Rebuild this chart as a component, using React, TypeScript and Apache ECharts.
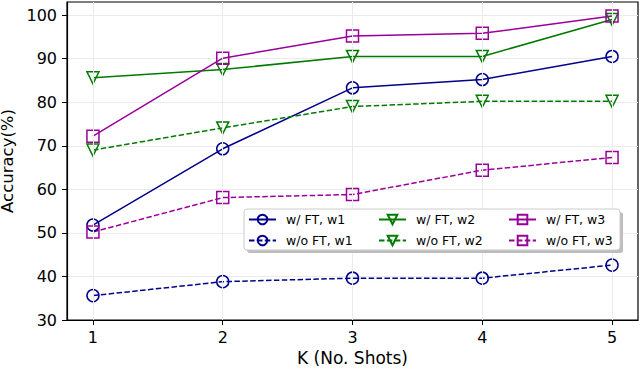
import React, { useEffect, useRef } from 'react';
import * as echarts from 'echarts';

const shots = [1, 2, 3, 4, 5];
const ftW1 = [51.8, 69.3, 83.3, 85.2, 90.5];
const noFtW1 = [35.6, 38.8, 39.6, 39.6, 42.6];
const ftW2 = [85.6, 87.5, 90.5, 90.5, 99.0];
const noFtW2 = [69.0, 74.1, 79.0, 80.2, 80.2];
const ftW3 = [72.2, 90.1, 95.2, 95.8, 99.8];
const noFtW3 = [50.2, 58.1, 58.8, 64.4, 67.3];
const yTicks = [30, 40, 50, 60, 70, 80, 90, 100];
const names = ['w/ FT, w1', 'w/o FT, w1', 'w/ FT, w2', 'w/o FT, w2', 'w/ FT, w3', 'w/o FT, w3'];
const values = [ftW1, noFtW1, ftW2, noFtW2, ftW3, noFtW3];
const colors = ['#00008b', '#00008b', '#007a00', '#007a00', '#990099', '#990099'];
const symbols = ['circle', 'circle', 'triangle', 'triangle', 'rect', 'rect'];
const rotations = [0, 0, 180, 180, 0, 0];

const FONT = 'DejaVu Sans';

export default function App() {
  const ref = useRef<HTMLDivElement>(null);
  useEffect(() => {
    document.body.style.margin = '0';
    const chart = echarts.init(ref.current!, null, { renderer: 'svg' });
    const series: any[] = [
      {
        type: 'line',
        name: '__grid',
        data: [],
        z: 1,
        silent: true,
        markLine: {
          silent: true,
          symbol: 'none',
          label: { show: false },
          lineStyle: { color: '#ebebeb', width: 1, type: 'solid' },
          data: shots.map((s) => ({ xAxis: s })),
        },
      },
    ];
    names.forEach((n, i) => {
      const dashed = i % 2 === 1;
      series.push({
        type: 'line',
        name: n,
        z: 2,
        data: shots.map((s, j) => [s, values[i][j]]),
        symbol: symbols[i],
        symbolRotate: rotations[i],
        symbolSize: 12,
        showAllSymbol: true,
        lineStyle: { color: colors[i], width: 1.5, type: dashed ? [5.5, 2.4] : 'solid' },
        itemStyle: { color: 'rgba(0,0,0,0)', borderColor: colors[i], borderWidth: 1.5 },
      });
    });
    const legendLefts = [248, 378, 508];
    const legend = [0, 1, 2].map((c) => ({
      data: [names[c * 2], names[c * 2 + 1]],
      orient: 'vertical',
      left: legendLefts[c],
      top: 213,
      itemWidth: 27,
      itemHeight: 12,
      itemGap: 8,
      padding: 0,
      selectedMode: false,
      z: 10,
      textStyle: { fontFamily: FONT, fontSize: 12.5, color: '#000', padding: [0, 0, 0, 5] },
    }));
    chart.setOption({
      animation: false,
      backgroundColor: '#fff',
      grid: {
        left: 67,
        top: 2,
        right: 2,
        height: 318,
        outerBoundsMode: 'none',
        containLabel: false,
        show: true,
        borderColor: '#000',
        borderWidth: 1.2,
        backgroundColor: 'transparent',
      },
      xAxis: {
        type: 'value',
        min: 0.8,
        max: 5.2,
        name: 'K (No. Shots)',
        nameLocation: 'middle',
        nameGap: 28,
        nameTextStyle: { fontFamily: FONT, fontSize: 17, color: '#000' },
        axisLine: { show: true, onZero: false, lineStyle: { color: '#000', width: 1.2 } },
        axisTick: { show: true, customValues: shots, length: 5, lineStyle: { color: '#000' } },
        axisLabel: { customValues: shots, margin: 9, fontFamily: FONT, fontSize: 16, color: '#000' },
        splitLine: { show: false },
      },
      yAxis: {
        type: 'value',
        min: 30,
        max: 103,
        interval: 10,
        name: 'Accuracy(%)',
        nameLocation: 'middle',
        nameGap: 40,
        nameTextStyle: { fontFamily: FONT, fontSize: 16.5, color: '#000' },
        axisLine: { show: true, onZero: false, lineStyle: { color: '#000', width: 1.2 } },
        axisTick: { show: true, customValues: yTicks, length: 5, lineStyle: { color: '#000' } },
        axisLabel: { customValues: yTicks, margin: 10, fontFamily: FONT, fontSize: 16, color: '#000' },
        splitLine: { show: true, lineStyle: { color: '#ebebeb', width: 1 } },
      },
      legend,
      graphic: [
        { type: 'rect', z: 8, shape: { x: 247, y: 212, width: 376, height: 41, r: 3 }, style: { fill: '#bdbdbd' } },
        { type: 'rect', z: 9, shape: { x: 244, y: 209, width: 376, height: 41, r: 3 }, style: { fill: '#fff', stroke: '#cccccc', lineWidth: 1 } },
      ],
      series,
    });
    return () => chart.dispose();
  }, []);
  return <div ref={ref} style={{ width: 640, height: 370 }} />;
}
